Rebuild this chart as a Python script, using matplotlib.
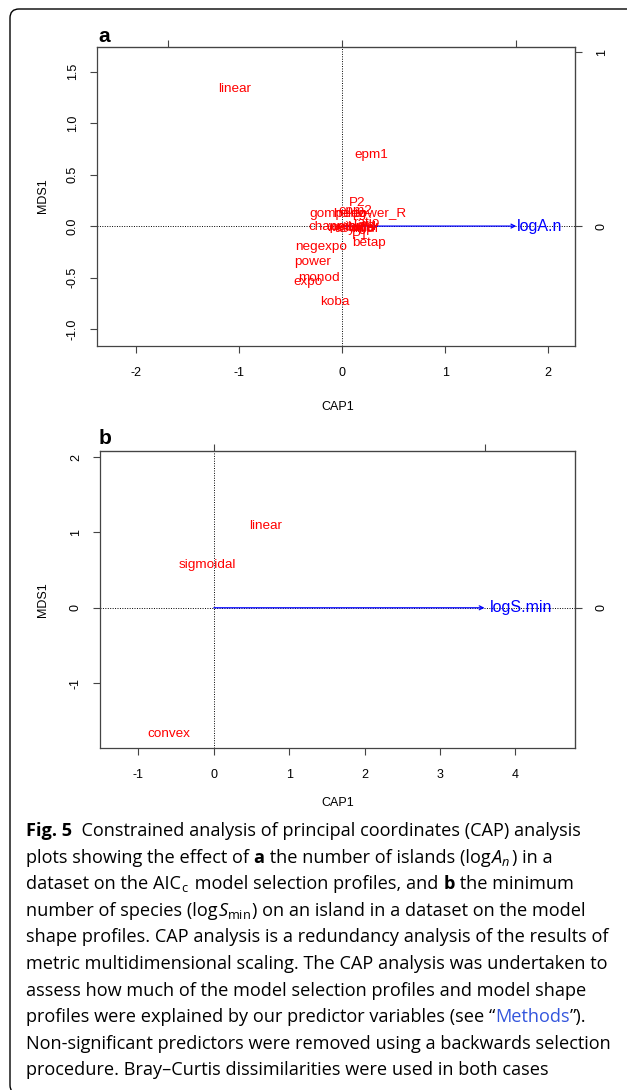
import matplotlib
matplotlib.use('Agg')
import matplotlib.pyplot as plt
from matplotlib.patches import FancyBboxPatch

plt.rcParams['font.family'] = ['Liberation Sans', 'DejaVu Sans']
plt.rcParams['axes.unicode_minus'] = False
plt.rcParams['mathtext.fontset'] = 'custom'
plt.rcParams['mathtext.rm'] = 'Open Sans'
plt.rcParams['mathtext.it'] = 'Open Sans:italic'
plt.rcParams['mathtext.bf'] = 'Open Sans:bold'

# panel a: AICc model selection profiles (site scores CAP1 / MDS1)
models_a = ['linear', 'epm1', 'P2', 'epm2', 'gompertz', 'heleg', 'power_R', 'ratio',
            'chapman', 'weibull3', 'asymp', 'loga', 'mmf', 'weibull4', 'P1', 'betap',
            'negexpo', 'power', 'monod', 'expo', 'koba']
cap1_a = [-1.04, 0.28, 0.15, 0.13, -0.04, 0.07, 0.36, 0.23,
          -0.06, 0.08, 0.12, 0.18, 0.22, 0.10, 0.17, 0.26,
          -0.20, -0.29, -0.23, -0.33, -0.07]
mds1_a = [1.33, 0.69, 0.22, 0.15, 0.12, 0.12, 0.12, 0.03,
          -0.01, -0.02, -0.03, -0.02, -0.03, -0.01, -0.10, -0.16,
          -0.20, -0.35, -0.50, -0.54, -0.74]
predictor_a = 'logA.n'
arrow_a = (1.0, 0.0)      # biplot score
scale_a = 1.69            # arrow multiplier
xticks_a = [-2, -1, 0, 1, 2]
yticks_a = [-1.0, -0.5, 0.0, 0.5, 1.0, 1.5]

# panel b: model shape profiles
shapes_b = ['linear', 'sigmoidal', 'convex']
cap1_b = [0.69, -0.09, -0.60]
mds1_b = [1.09, 0.57, -1.67]
predictor_b = 'logS.min'
arrow_b = (1.0, 0.0)
scale_b = 3.59
xticks_b = [-1, 0, 1, 2, 3, 4]
yticks_b = [-1, 0, 1, 2]

caption = [
    [('Fig. 5', 'b'), ('  Constrained analysis of principal coordinates (CAP) analysis', 'n')],
    [('plots showing the effect of ', 'n'), ('a', 'b'), (' the number of islands (log', 'n'),
     ('$A_n$', 'n'), (') in a', 'n')],
    [('dataset on the AIC', 'n'), ('$_\\mathrm{c}$', 'n'), (' model selection profiles, and ', 'n'),
     ('b', 'b'), (' the minimum', 'n')],
    [('number of species (log', 'n'), ('$S_\\mathrm{min}$', 'n'),
     (') on an island in a dataset on the model', 'n')],
    [('shape profiles. CAP analysis is a redundancy analysis of the results of', 'n')],
    [('metric multidimensional scaling. The CAP analysis was undertaken to', 'n')],
    [('assess how much of the model selection profiles and model shape', 'n')],
    [('profiles were explained by our predictor variables (see \u201c', 'n'), ('Methods', 'link'), ('\u201d).', 'n')],
    [('Non-significant predictors were removed using a backwards selection', 'n')],
    [('procedure. Bray\u2013Curtis dissimilarities were used in both cases', 'n')],
]

W, H = 627, 1090
fig = plt.figure(figsize=(W / 100, H / 100), dpi=100)
fig.patch.set_facecolor('white')

spine_col = '#444444'


def cap_panel(ax, names, xs, ys, label, arrow, scale, xlim, ylim, xticks, yticks, yfmt):
    ax.set_xlim(xlim)
    ax.set_ylim(ylim)
    ax.axhline(0, color='black', ls=(0, (1, 1.5)), lw=0.7, zorder=1)
    ax.axvline(0, color='black', ls=(0, (1, 1.5)), lw=0.7, zorder=1)
    for n, x, y in zip(names, xs, ys):
        ax.text(x, y, n, color='red', fontsize=9.7, ha='center', va='center', zorder=3)
    tip = (arrow[0] * scale, arrow[1] * scale)
    ax.annotate('', xy=tip, xytext=(0, 0),
                arrowprops=dict(arrowstyle='->', color='blue', lw=0.9,
                                shrinkA=0, shrinkB=0, mutation_scale=7), zorder=2)
    ax.text(tip[0] * 1.135, tip[1] * 1.135, label, color='blue', fontsize=11.5,
            ha='center', va='center', zorder=3)

    ax.set_xticks(xticks)
    ax.set_xticklabels(['%d' % t for t in xticks])
    ax.set_yticks(yticks)
    ax.set_yticklabels([yfmt % t for t in yticks], rotation=90, va='center')
    ax.tick_params(direction='out', length=5, width=0.8, color=spine_col, labelsize=9)
    ax.tick_params(axis='x', pad=10)
    ax.tick_params(axis='y', pad=8)
    for s in ax.spines.values():
        s.set_color(spine_col)
        s.set_linewidth(0.9)

    # arrow scale on the right and top axes
    sy = ax.secondary_yaxis('right', functions=(lambda v: v / scale, lambda v: v * scale))
    sy.set_yticks([-1, 0, 1])
    sy.tick_params(direction='out', length=5, width=0.8, color=spine_col, labelsize=9, pad=10)
    for t in sy.get_yticklabels():
        t.set_rotation(90)
        t.set_va('center')
    sy.spines['right'].set_color(spine_col)
    sx = ax.secondary_xaxis('top', functions=(lambda v: v / scale, lambda v: v * scale))
    sx.set_xticks([-1, 0, 1], labels=['', '', ''])
    sx.tick_params(direction='out', length=5, width=0.8, color=spine_col)
    sx.spines['top'].set_color(spine_col)


ax_a = fig.add_axes([97 / W, 1 - 346 / H, 478 / W, 299 / H])
ax_b = fig.add_axes([100 / W, 1 - 748 / H, 475 / W, 297 / H])

cap_panel(ax_a, models_a, cap1_a, mds1_a, predictor_a, arrow_a, scale_a,
          (-2.38, 2.26), (-1.165, 1.74), xticks_a, yticks_a, '%.1f')
cap_panel(ax_b, shapes_b, cap1_b, mds1_b, predictor_b, arrow_b, scale_b,
          (-1.51, 4.79), (-1.86, 2.08), xticks_b, yticks_b, '%d')

# axis titles
fig.text(338 / W, 1 - 407 / H, 'CAP1', fontsize=9, ha='center', va='center')
fig.text(43 / W, 1 - 196 / H, 'MDS1', fontsize=9, ha='center', va='center', rotation=90)
fig.text(338 / W, 1 - 803 / H, 'CAP1', fontsize=9, ha='center', va='center')
fig.text(43 / W, 1 - 600 / H, 'MDS1', fontsize=9, ha='center', va='center', rotation=90)

# panel letters
fig.text(104 / W, 1 - 37 / H, 'a', fontsize=15, fontweight='bold', ha='center', va='center')
fig.text(105 / W, 1 - 439 / H, 'b', fontsize=15, fontweight='bold', ha='center', va='center')

# journal frame
fig.patches.append(FancyBboxPatch((10, -4), 720, H - 9 + 4, boxstyle='round,pad=0,rounding_size=9',
                                  transform=None, fill=False, lw=1.0, ec='black'))

# caption, drawn piece by piece
renderer = fig.canvas.get_renderer()
cap_fs = 13.1


def seg_width(s, weight):
    if '$' in s:
        t = fig.text(0, 0, s, fontsize=cap_fs, family='Open Sans', fontweight=weight)
        w = t.get_window_extent(renderer).width + 1.5
        t.remove()
        return w
    t1 = fig.text(0, 0, '|' + s + '|', fontsize=cap_fs, family='Open Sans', fontweight=weight)
    t2 = fig.text(0, 0, '||', fontsize=cap_fs, family='Open Sans', fontweight=weight)
    w = t1.get_window_extent(renderer).width - t2.get_window_extent(renderer).width
    t1.remove()
    t2.remove()
    return w


for i, parts in enumerate(caption):
    x = 26.0
    y = 836 + 26.6 * i
    for s, kind in parts:
        weight = 'bold' if kind == 'b' else 'normal'
        col = '#3355dd' if kind == 'link' else 'black'
        fig.text(x / W, 1 - y / H, s, fontsize=cap_fs, family='Open Sans', fontweight=weight,
                 color=col, ha='left', va='baseline')
        x += seg_width(s, weight)

fig.savefig('out.png', dpi=100)
